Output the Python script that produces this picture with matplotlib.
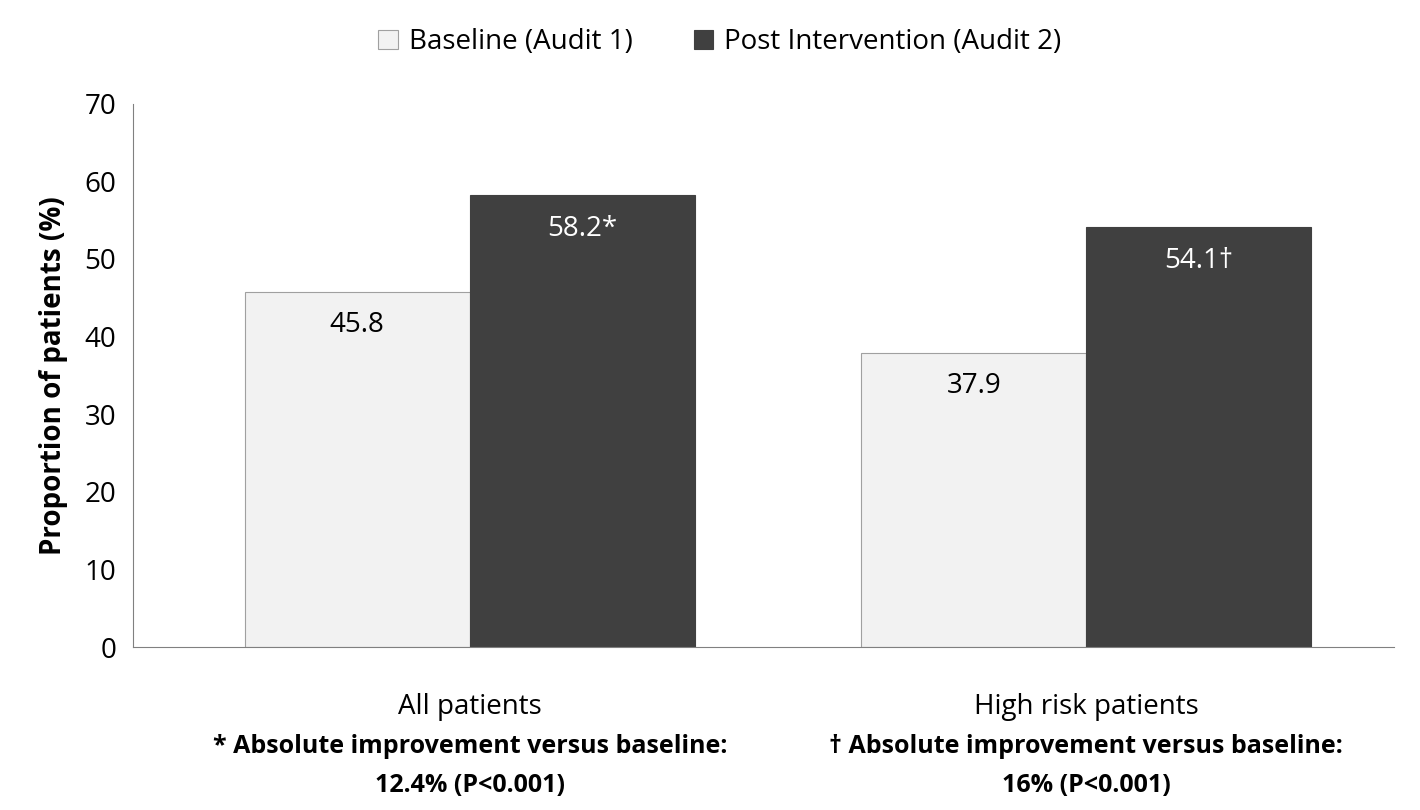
import numpy as np
import matplotlib.pyplot as plt

plt.rcParams['font.family'] = ['Open Sans', 'DejaVu Sans']

categories = ["All patients", "High risk patients"]
baseline = [45.8, 37.9]
post = [58.2, 54.1]
baseline_labels = ["45.8", "37.9"]
post_labels = ["58.2*", "54.1\u2020"]
footnotes = ["* Absolute improvement versus baseline:\n12.4% (P<0.001)",
             "\u2020 Absolute improvement versus baseline:\n16% (P<0.001)"]

fig = plt.figure(figsize=(14.2, 8.1), dpi=100)
ax = fig.add_axes([0.0937, 0.201, 0.888, 0.671])

x = np.arange(len(categories))
w = 0.3647
b1 = ax.bar(x - w / 2, baseline, w, color='#f2f2f2', edgecolor='#a0a0a0', linewidth=0.8,
            label='Baseline (Audit 1)')
b2 = ax.bar(x + w / 2, post, w, color='#404040', edgecolor='#404040', linewidth=0.8,
            label='Post Intervention (Audit 2)')

for xi, v, t in zip(x - w / 2, baseline, baseline_labels):
    ax.text(xi, v - 2.5, t, ha='center', va='top', fontsize=20, color='black')
for xi, v, t in zip(x + w / 2, post, post_labels):
    ax.text(xi, v - 2.5, t, ha='center', va='top', fontsize=20, color='white')

ax.set_xlim(-0.546, 1.499)
ax.set_ylim(0, 70)
ax.set_yticks(range(0, 71, 10))
ax.tick_params(axis='y', labelsize=20, length=0, pad=12)
ax.set_xticks([])
ax.set_ylabel('Proportion of patients (%)', fontsize=20, fontweight='bold', labelpad=12)
for s in ['top', 'right']:
    ax.spines[s].set_visible(False)
ax.spines['left'].set_color('#808080')
ax.spines['bottom'].set_color('#808080')

for xi, c, f in zip(x, categories, footnotes):
    ax.text(xi, -7.7, c, ha='center', va='center', fontsize=20)
    ax.text(xi, -15.3, f, ha='center', va='center', fontsize=18, fontweight='bold',
            linespacing=1.75)

fig.legend(handles=[b1, b2], loc='center', bbox_to_anchor=(0.507, 0.948), ncol=2,
           frameon=False, fontsize=20, handlelength=0.7, handleheight=0.7,
           columnspacing=2.2, handletextpad=0.4)

fig.savefig('out.png', dpi=100)
